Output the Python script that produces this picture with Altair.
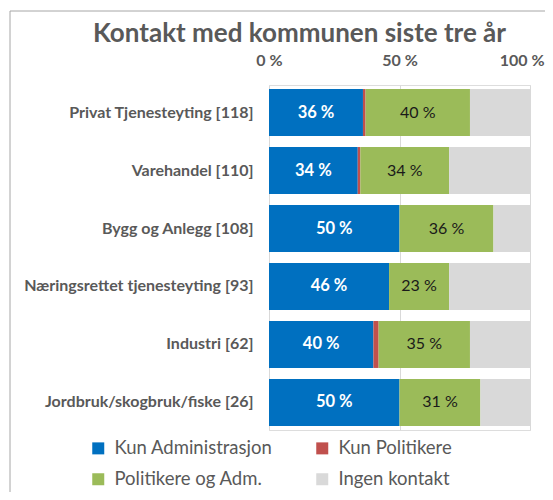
import altair as alt
import pandas as pd

categories = [
    "Privat Tjenesteyting [118]",
    "Varehandel [110]",
    "Bygg og Anlegg [108]",
    "Næringsrettet tjenesteyting [93]",
    "Industri [62]",
    "Jordbruk/skogbruk/fiske [26]",
]
series = ["Kun Administrasjon", "Kun Politikere", "Politikere og Adm.", "Ingen kontakt"]
kun_adm = [36, 34, 50, 46, 40, 50]
kun_pol = [1, 1, 0, 0, 2, 0]
pol_adm = [40, 34, 36, 23, 35, 31]
ingen = [23, 31, 14, 31, 23, 19]
colors = ["#0070C0", "#C0504D", "#9BBB59", "#D9D9D9"]
axis_ticks = [0, 50, 100]

rows = []
for s_idx, (name, vals) in enumerate(zip(series, [kun_adm, kun_pol, pol_adm, ingen])):
    for cat, v in zip(categories, vals):
        rows.append({"category": cat, "series": name, "order": s_idx, "value": v})
df = pd.DataFrame(rows)

FONT = "Lato"
GREY = "#595959"

base = alt.Chart(df)

y_enc = alt.Y(
    "category:N",
    sort=categories,
    title=None,
    scale=alt.Scale(paddingInner=0.19, paddingOuter=0.07),
    axis=alt.Axis(
        labelFont=FONT, labelFontSize=16, labelFontWeight="bold", labelColor=GREY,
        domain=False, ticks=False, labelPadding=16, labelLimit=300,
    ),
)

bars = base.mark_bar().encode(
    x=alt.X(
        "value:Q",
        stack="zero",
        title=None,
        scale=alt.Scale(domain=[0, 100], nice=False),
        axis=alt.Axis(
            orient="top", values=axis_ticks, labelExpr="datum.value + ' %'",
            labelFont=FONT, labelFontSize=16, labelFontWeight="bold", labelColor=GREY,
            domain=False, ticks=False, labelPadding=17, labelFlush=False,
            labelAlign={"condition": {"test": "datum.value === 100", "value": "right"}, "value": "center"},
            labelOffset={"condition": {"test": "datum.value === 100", "value": 14}, "value": 0},
            grid=True, gridColor="#D9D9D9", gridWidth=1,
        ),
    ),
    y=y_enc,
    color=alt.Color(
        "series:N",
        scale=alt.Scale(domain=series, range=colors),
        legend=alt.Legend(
            orient="none", legendX=-180, legendY=354, columns=2, direction="horizontal",
            symbolType="square", symbolSize=144, symbolStrokeWidth=0, symbolOpacity=1,
            labelFont=FONT, labelFontSize=18.5, labelColor=GREY, labelOffset=7,
            title=None, columnPadding=40, rowPadding=12, labelLimit=300,
        ),
    ),
    order=alt.Order("order:Q"),
)

stacked = base.transform_stack(
    stack="value", groupby=["category"], sort=[alt.SortField("order")], as_=["x0", "x1"]
).transform_calculate(mid="(datum.x0 + datum.x1) / 2", label="datum.value + ' %'")

text_blue = stacked.transform_filter("datum.order == 0").mark_text(
    font=FONT, fontSize=16.5, fontWeight="bold", color="white"
).encode(x=alt.X("mid:Q", title=None), y=alt.Y("category:N", sort=categories), text="label:N")

text_green = stacked.transform_filter("datum.order == 2").mark_text(
    font=FONT, fontSize=16, color="#1a1a1a"
).encode(x=alt.X("mid:Q", title=None), y=alt.Y("category:N", sort=categories), text="label:N")

frame = alt.Chart(pd.DataFrame({"f": [0]})).mark_rect(
    fill=None, stroke="#A6A6A6", strokeWidth=1
).encode(
    x=alt.value(-259), x2=alt.value(300), y=alt.value(-74), y2=alt.value(440)
)

chart = alt.layer(frame, bars, text_blue, text_green).properties(
    width=261,
    height=345,
    padding={"left": 261, "top": 77, "right": 15, "bottom": 62},
    autosize=alt.AutoSizeParams(type="none"),
    title=alt.TitleParams(
        "Kontakt med kommunen siste tre år",
        font=FONT, fontSize=26, fontWeight="bold", color=GREY,
        anchor="middle", dx=-100, offset=-36,
    ),
).configure_view(stroke=None).configure(background="white")

chart.save("out.html", embed_options={"renderer": "svg", "actions": False})
